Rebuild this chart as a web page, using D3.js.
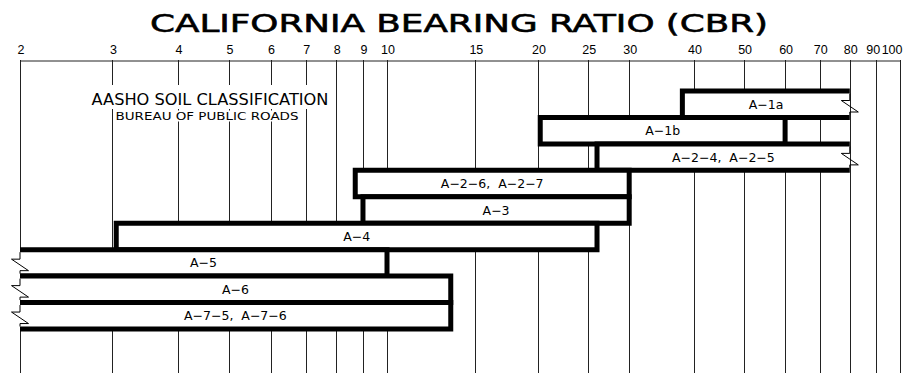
<!DOCTYPE html>
<html>
<head>
<meta charset="utf-8">
<script src="https://cdn.jsdelivr.net/npm/d3@7"></script>
<style>
  body { margin: 0; background: #fff; }
  svg { display: block; }
</style>
</head>
<body>
<svg id="chart" width="916" height="373"></svg>
<script>
// soil groups, top to bottom, with their CBR range
const soils = ['A-1a', 'A-1b', 'A-2-4, A-2-5', 'A-2-6, A-2-7', 'A-3', 'A-4', 'A-5', 'A-6', 'A-7-5, A-7-6']
const cbrLow = [38, 20.2, 26, 8.7, 9, 3.05, 2, 2, 2]
const cbrHigh = [80, 60, 80, 30, 30, 26, 10, 13.4, 13.4]
// range continues past the drawn end (break symbol)
const openLow = [false, false, false, false, false, false, true, true, true]
const openHigh = [true, false, true, false, false, false, false, false, false]
const cbrTicks = [2, 3, 4, 5, 6, 7, 8, 9, 10, 15, 20, 25, 30, 40, 50, 60, 70, 80, 90, 100]

const width = 916
const height = 373
const gridTop = 60

const x = d3.scaleLog()
  .domain([2, 10, 20, 100])
  .range([20, 387, 538, 900])

const y = d3.scaleBand()
  .domain(soils)
  .range([91, 329])
  .padding(0)

const svg = d3.select('#chart')
const font = '"DejaVu Sans", "Liberation Sans", sans-serif'
const dash = s => s.replace(/-/g, '\u2212')

svg.append('text')
  .attr('x', 459)
  .attr('y', 32)
  .attr('text-anchor', 'middle')
  .attr('font-family', '"DejaVu Sans", sans-serif')
  .attr('font-size', 25)
  .attr('stroke', '#000')
  .attr('stroke-width', 0.6)
  .attr('textLength', 618)
  .attr('lengthAdjust', 'spacingAndGlyphs')
  .text('CALIFORNIA BEARING RATIO (CBR)')

// grid lines
svg.append('g')
  .attr('stroke', '#222')
  .attr('stroke-width', 1)
  .selectAll('line')
  .data(cbrTicks)
  .join('line')
  .attr('x1', d => Math.round(x(d)) + 0.5)
  .attr('x2', d => Math.round(x(d)) + 0.5)
  .attr('y1', gridTop)
  .attr('y2', height)

const axis = svg.append('g')
  .attr('transform', `translate(0.5,${gridTop + 0.5})`)
  .call(d3.axisTop(x).tickValues(cbrTicks).tickSize(0).tickSizeOuter(0).tickPadding(7).tickFormat(d3.format('d')))

axis.select('.domain').attr('stroke', '#222')
axis.selectAll('text')
  .attr('font-family', '"Liberation Sans", Arial, sans-serif')
  .attr('font-size', 12.5)
  .attr('fill', '#000')
axis.selectAll('.tick').filter(d => d === 90).select('text')
  .attr('dx', -4)
axis.selectAll('.tick').filter(d => d === 100).select('text')
  .attr('text-anchor', 'end')
  .attr('x', 1.5)

// heading inside the chart, masking the grid behind it
const note = svg.append('g')
const noteLines = [
  { text: 'AASHO SOIL CLASSIFICATION', x: 210, y: 105, size: 15.5, len: 237, pad: [3, 6] },
  { text: 'BUREAU OF PUBLIC ROADS', x: 207, y: 119.5, size: 10, len: 183, pad: [1, 0] }
]
noteLines.forEach(n => {
  const bg = note.append('rect').attr('fill', '#fff')
  const t = note.append('text')
    .attr('x', n.x)
    .attr('y', n.y)
    .attr('text-anchor', 'middle')
    .attr('font-family', font)
    .attr('font-size', n.size)
    .attr('textLength', n.len)
    .attr('lengthAdjust', 'spacingAndGlyphs')
    .text(n.text)
  const bb = t.node().getBBox()
  bg.attr('x', bb.x - n.pad[0])
    .attr('y', bb.y - n.pad[1])
    .attr('width', bb.width + 2 * n.pad[0])
    .attr('height', bb.height + n.pad[1])
})

// bars
const bars = soils.map((s, i) => ({
  name: s,
  x0: x(cbrLow[i]),
  x1: x(cbrHigh[i]),
  y0: y(s),
  y1: y(s) + y.bandwidth(),
  openLow: openLow[i],
  openHigh: openHigh[i]
}))

const bar = svg.append('g')
  .selectAll('g')
  .data(bars)
  .join('g')

bar.append('rect')
  .attr('x', d => d.x0)
  .attr('y', d => d.y0)
  .attr('width', d => d.x1 - d.x0)
  .attr('height', d => d.y1 - d.y0)
  .attr('fill', '#fff')

function outline(d) {
  if (d.openHigh) return `M${d.x1},${d.y0}H${d.x0}V${d.y1}H${d.x1}`
  if (d.openLow) return `M${d.x0},${d.y0}H${d.x1}V${d.y1}H${d.x0}`
  return `M${d.x0},${d.y0}H${d.x1}V${d.y1}H${d.x0}Z`
}

function breakLine(xb, y0, y1) {
  return `M${xb},${y0}V${y0 + 7}H${xb - 8.5}L${xb + 8.5},${y0 + 18.5}H${xb}V${y1}`
}

bar.append('path')
  .attr('d', outline)
  .attr('fill', 'none')
  .attr('stroke', '#000')
  .attr('stroke-width', 5)
  .attr('stroke-linejoin', 'miter')

bar.filter(d => d.openHigh || d.openLow)
  .append('path')
  .attr('d', d => breakLine(d.openHigh ? d.x1 : d.x0, d.y0 + 2.5, d.y1 - 2.5))
  .attr('fill', 'none')
  .attr('stroke', '#000')
  .attr('stroke-width', 1)

bar.append('text')
  .attr('x', d => (d.x0 + d.x1) / 2)
  .attr('y', d => (d.y0 + d.y1) / 2 + 4.5)
  .attr('text-anchor', 'middle')
  .attr('font-family', font)
  .attr('font-size', 12.5)
  .text(d => dash(d.name).replace(', ', ',\u00a0 '))
</script>
</body>
</html>
